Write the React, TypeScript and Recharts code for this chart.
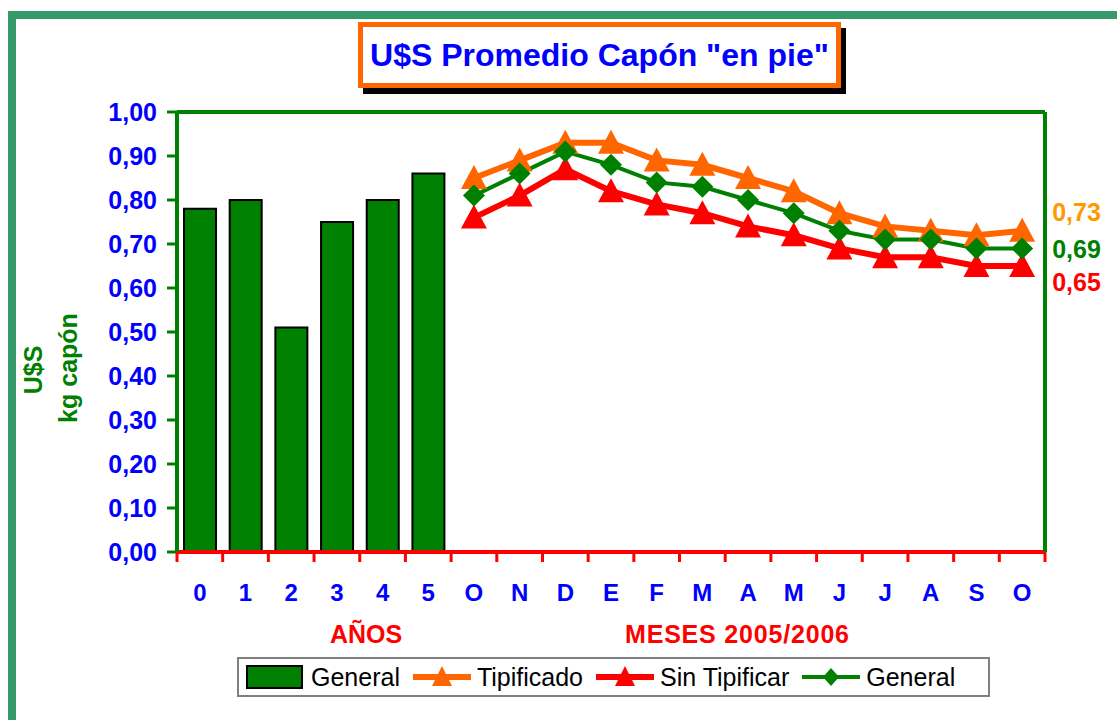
import React from 'react';
import {
    ComposedChart,
    Bar,
    Line,
    XAxis,
    YAxis,
    Legend,
    LabelList,
} from 'recharts';

const CATEGORIES = ['0', '1', '2', '3', '4', '5', 'O', 'N', 'D', 'E', 'F', 'M', 'A', 'M', 'J', 'J', 'A', 'S', 'O'];
const YEARS_COUNT = 6;
const GENERAL_YEARS = [0.78, 0.80, 0.51, 0.75, 0.80, 0.86];
const TIPIFICADO = [0.85, 0.89, 0.93, 0.93, 0.89, 0.88, 0.85, 0.82, 0.77, 0.74, 0.73, 0.72, 0.73];
const SIN_TIPIFICAR = [0.76, 0.81, 0.87, 0.82, 0.79, 0.77, 0.74, 0.72, 0.69, 0.67, 0.67, 0.65, 0.65];
const GENERAL_MONTHS = [0.81, 0.86, 0.91, 0.88, 0.84, 0.83, 0.80, 0.77, 0.73, 0.71, 0.71, 0.69, 0.69];
const Y_TICKS = [0, 0.1, 0.2, 0.3, 0.4, 0.5, 0.6, 0.7, 0.8, 0.9, 1];

const FONT = '"Liberation Sans", Arial, sans-serif';
const GREEN = '#008000';
const ORANGE = '#FF6600';
const RED = '#FF0000';
const BLUE = '#0000FF';

// plot box in page pixels
const PLOT_LEFT = 177;
const PLOT_RIGHT = 1045;
const PLOT_TOP = 112;
const PLOT_BOTTOM = 552;
const BAND = (PLOT_RIGHT - PLOT_LEFT) / CATEGORIES.length;

const data = CATEGORIES.map((cat, i) => ({
    idx: i,
    cat,
    bar: i < YEARS_COUNT ? GENERAL_YEARS[i] : null,
    tip: i >= YEARS_COUNT ? TIPIFICADO[i - YEARS_COUNT] : null,
    sin: i >= YEARS_COUNT ? SIN_TIPIFICAR[i - YEARS_COUNT] : null,
    gen: i >= YEARS_COUNT ? GENERAL_MONTHS[i - YEARS_COUNT] : null,
}));

const fmt = (v: number) => v.toFixed(2).replace('.', ',');

const Triangle = ({ cx, cy, fill }: any) => {
    if (cx == null || cy == null) return null;
    return <polygon points={`${cx},${cy - 13} ${cx + 13},${cy + 11} ${cx - 13},${cy + 11}`} fill={fill} />;
};

const Diamond = ({ cx, cy, fill }: any) => {
    if (cx == null || cy == null) return null;
    return <polygon points={`${cx},${cy - 11} ${cx + 11},${cy} ${cx},${cy + 11} ${cx - 11},${cy}`} fill={fill} />;
};

const XTick = ({ x, payload }: any) => {
    const i = payload.value;
    return (
        <g>
            <line x1={x - BAND / 2} x2={x - BAND / 2} y1={PLOT_BOTTOM} y2={PLOT_BOTTOM + 10} stroke={RED} strokeWidth={3} />
            {i === CATEGORIES.length - 1 && (
                <line x1={x + BAND / 2} x2={x + BAND / 2} y1={PLOT_BOTTOM} y2={PLOT_BOTTOM + 10} stroke={RED} strokeWidth={3} />
            )}
            <text x={x} y={PLOT_BOTTOM + 49} textAnchor="middle" fill={BLUE} fontFamily={FONT} fontWeight="bold" fontSize={24}>
                {CATEGORIES[i]}
            </text>
        </g>
    );
};

const lastLabel = (color: string, dy: number) => (props: any) => {
    const { x, y, index, value } = props;
    if (index !== CATEGORIES.length - 1) return null;
    return (
        <text x={x + 30} y={y + dy} fill={color} fontFamily={FONT} fontWeight="bold" fontSize={25} dominantBaseline="central">
            {fmt(value)}
        </text>
    );
};

const LegendBox = () => {
    const items = [
        { label: 'General', kind: 'bar', color: GREEN },
        { label: 'Tipificado', kind: 'tri', color: ORANGE },
        { label: 'Sin Tipificar', kind: 'tri', color: RED },
        { label: 'General', kind: 'dia', color: GREEN },
    ];
    return (
        <div style={{
            border: '2px solid #808080', background: '#fff', height: 40, width: 753, boxSizing: 'border-box',
            display: 'flex', alignItems: 'center', padding: '0 6px', fontFamily: FONT, fontSize: 25, color: '#000',
            whiteSpace: 'nowrap', overflow: 'hidden',
        }}>
            {items.map((it, k) => (
                <div key={k} style={{ display: 'flex', alignItems: 'center', marginRight: 11, flexShrink: 0 }}>
                    <svg width={62} height={26} style={{ flexShrink: 0 }}>
                        {it.kind === 'bar' ? (
                            <rect x={2} y={2} width={55} height={22} fill={it.color} stroke="#000" strokeWidth={2} />
                        ) : (
                            <>
                                <line x1={2} x2={60} y1={13} y2={13} stroke={it.color} strokeWidth={it.kind === 'dia' ? 4 : 6} />
                                {it.kind === 'tri'
                                    ? <polygon points="31,2 41,22 21,22" fill={it.color} />
                                    : <polygon points="31,4 39,13 31,22 23,13" fill={it.color} />}
                            </>
                        )}
                    </svg>
                    <span style={{ marginLeft: 4 }}>{it.label}</span>
                </div>
            ))}
        </div>
    );
};

export default function App() {
    return (
        <div style={{ position: 'absolute', left: 0, top: 0, width: 1117, height: 720, background: '#fff', overflow: 'hidden' }}>
            {/* outer frame */}
            <div style={{
                position: 'absolute', left: 8, top: 11, width: 1200, height: 800,
                borderTop: '8px solid #36996A', borderLeft: '8px solid #36996A',
            }} />
            {/* title */}
            <div style={{
                position: 'absolute', left: 358, top: 22, width: 483, height: 66, boxSizing: 'border-box',
                border: `5px solid ${ORANGE}`, background: '#fff', boxShadow: '5px 6px 0 #000',
                display: 'flex', alignItems: 'center', justifyContent: 'center',
                fontFamily: FONT, fontWeight: 'bold', fontSize: 32, color: BLUE,
            }}>
                U$S Promedio Capón "en pie"
            </div>
            <ComposedChart
                width={1117}
                height={720}
                data={data}
                margin={{ top: PLOT_TOP, right: 0, bottom: 720 - PLOT_BOTTOM - 40, left: PLOT_LEFT - 100 }}
                style={{ position: 'absolute', left: 0, top: 0 }}
            >
                <XAxis
                    dataKey="idx"
                    type="category"
                    height={40}
                    axisLine={{ stroke: RED, strokeWidth: 4 }}
                    tickLine={false}
                    interval={0}
                    tick={<XTick />}
                    label={{
                        content: () => (
                            <g fontFamily={FONT} fontWeight="bold" fontSize={25} fill={RED}>
                                <text x={366} y={643} textAnchor="middle">AÑOS</text>
                                <text x={737} y={643} textAnchor="middle" textLength={224}>MESES 2005/2006</text>
                            </g>
                        ),
                    }}
                />
                <YAxis
                    yAxisId="left"
                    width={100}
                    domain={[0, 1]}
                    ticks={Y_TICKS}
                    tickFormatter={fmt}
                    axisLine={{ stroke: GREEN, strokeWidth: 4 }}
                    tickLine={{ stroke: GREEN, strokeWidth: 3 }}
                    tickSize={10}
                    tickMargin={10}
                    tick={{ fill: BLUE, fontFamily: FONT, fontWeight: 'bold', fontSize: 25 }}
                    label={{
                        content: () => (
                            <g fontFamily={FONT} fontWeight="bold" fontSize={25} fill={GREEN}>
                                <text x={33} y={370} textAnchor="middle" dominantBaseline="central" transform="rotate(-90 33 370)">U$S</text>
                                <text x={68} y={368} textAnchor="middle" dominantBaseline="central" transform="rotate(-90 68 368)">kg capón</text>
                            </g>
                        ),
                    }}
                />
                <YAxis
                    yAxisId="right"
                    orientation="right"
                    width={72}
                    domain={[0, 1]}
                    tick={false}
                    tickLine={false}
                    axisLine={{ stroke: GREEN, strokeWidth: 4 }}
                />
                <Legend
                    layout="horizontal"
                    verticalAlign="middle"
                    align="center"
                    content={<LegendBox />}
                    wrapperStyle={{ position: 'absolute', left: 237, top: 657, width: 753, height: 40 }}
                />
                <Bar yAxisId="left" dataKey="bar" name="General" fill={GREEN} stroke="#000" strokeWidth={2} barSize={32} isAnimationActive={false} />
                <Line yAxisId="left" dataKey="tip" name="Tipificado" stroke={ORANGE} strokeWidth={6} dot={<Triangle fill={ORANGE} />} isAnimationActive={false}>
                    <LabelList dataKey="tip" content={lastLabel('#FF9900', -19)} />
                </Line>
                <Line yAxisId="left" dataKey="sin" name="Sin Tipificar" stroke={RED} strokeWidth={6} dot={<Triangle fill={RED} />} isAnimationActive={false}>
                    <LabelList dataKey="sin" content={lastLabel(RED, 16)} />
                </Line>
                <Line yAxisId="left" dataKey="gen" name="General" stroke={GREEN} strokeWidth={4} dot={<Diamond fill={GREEN} />} isAnimationActive={false}>
                    <LabelList dataKey="gen" content={lastLabel(GREEN, 1)} />
                </Line>
            </ComposedChart>
            {/* top border of plot */}
            <div style={{ position: 'absolute', left: PLOT_LEFT, top: PLOT_TOP - 2, width: PLOT_RIGHT - PLOT_LEFT, height: 4, background: GREEN }} />
        </div>
    );
}
